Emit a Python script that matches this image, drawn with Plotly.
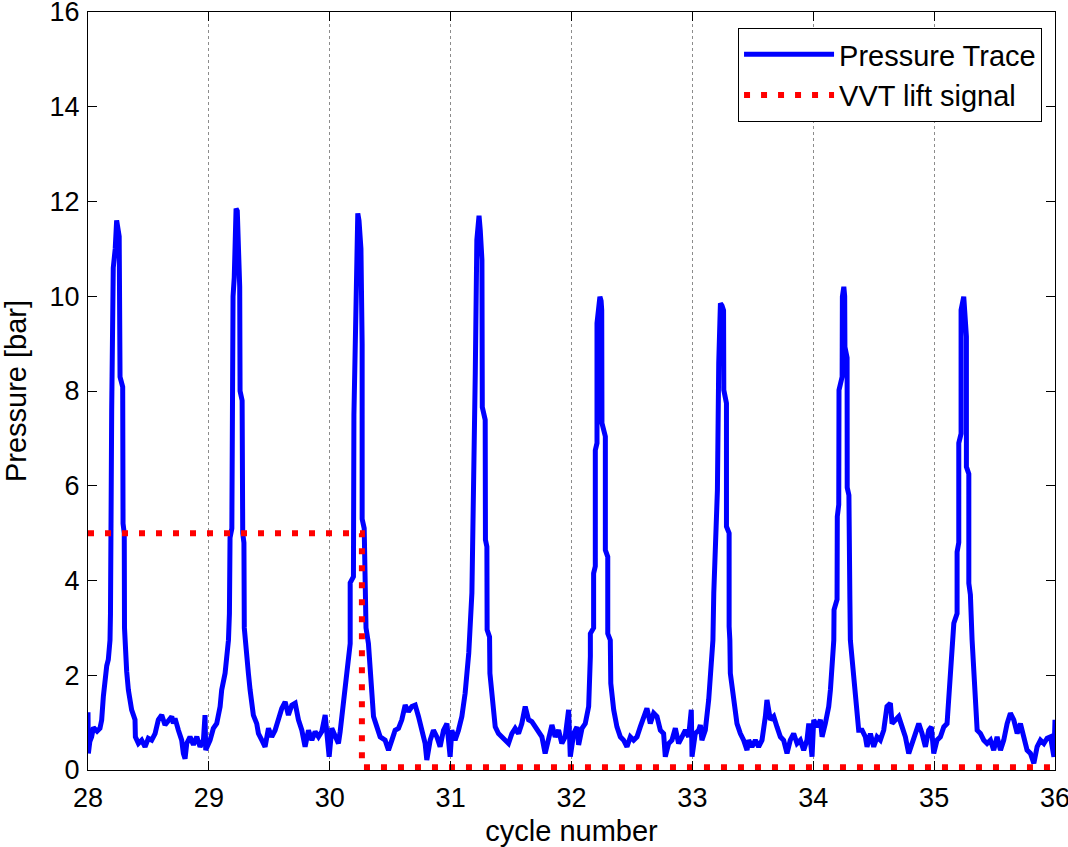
import plotly.graph_objects as go

# ---- data ----
cycle_x = [
    28.000, 28.003, 28.015, 28.030, 28.045, 28.058, 28.075, 28.099, 28.113, 28.127, 28.141, 28.155, 28.168, 28.182,
    28.186, 28.190, 28.196, 28.209, 28.225, 28.237, 28.245, 28.258, 28.265, 28.287, 28.290, 28.300, 28.302, 28.306,
    28.320, 28.334, 28.361, 28.389, 28.392, 28.417, 28.444, 28.472, 28.499, 28.527, 28.555, 28.582, 28.610, 28.637,
    28.665, 28.693, 28.706, 28.720, 28.748, 28.775, 28.789, 28.803, 28.817, 28.844, 28.872, 28.900, 28.927, 28.955,
    28.968, 28.974, 29.010, 29.037, 29.065, 29.093, 29.106, 29.134, 29.148, 29.162,
    29.170, 29.175, 29.190, 29.195, 29.200, 29.210, 29.225, 29.235, 29.245, 29.255, 29.258, 29.275, 29.280, 29.290,
    29.293, 29.300,
    29.327, 29.341, 29.368, 29.396, 29.410, 29.438, 29.465, 29.493, 29.520, 29.548, 29.576, 29.603, 29.631, 29.658,
    29.686, 29.714, 29.741, 29.769, 29.796, 29.824, 29.852, 29.879, 29.907, 29.934, 29.962, 29.984, 29.995, 30.017,
    30.045, 30.072, 30.086, 30.100, 30.127, 30.140, 30.155, 30.169,
    30.169, 30.196, 30.200, 30.210, 30.218, 30.232, 30.242, 30.258, 30.268, 30.268, 30.285, 30.293, 30.300, 30.320,
    30.334, 30.348, 30.362, 30.390, 30.417, 30.458, 30.486, 30.514, 30.541, 30.569, 30.596, 30.624, 30.651, 30.679,
    30.707, 30.734, 30.762, 30.789, 30.803, 30.831, 30.858, 30.886, 30.913, 30.941, 30.969, 30.996, 31.010, 31.037,
    31.065, 31.093, 31.120, 31.148,
    31.150, 31.176, 31.190, 31.204, 31.217, 31.235, 31.245, 31.259, 31.262, 31.286, 31.288, 31.300, 31.302, 31.322,
    31.325, 31.341, 31.369, 31.396, 31.424, 31.451, 31.479, 31.507, 31.534, 31.562, 31.589, 31.617, 31.645, 31.672,
    31.700, 31.727, 31.755, 31.782, 31.810, 31.838, 31.865, 31.893, 31.920, 31.948, 31.976, 31.990, 32.018, 32.045,
    32.059, 32.087, 32.114, 32.142,
    32.156, 32.156, 32.183, 32.183, 32.197, 32.197, 32.211, 32.211, 32.235, 32.245, 32.250, 32.252, 32.280, 32.280,
    32.300, 32.300, 32.321,
    32.325, 32.349, 32.376, 32.404, 32.431, 32.459, 32.487, 32.514, 32.542, 32.569, 32.597, 32.624, 32.652, 32.680,
    32.707, 32.735, 32.762, 32.776, 32.804, 32.831, 32.859, 32.886, 32.914, 32.942, 32.969, 32.991, 32.997, 33.024,
    33.052, 33.066, 33.079, 33.107, 33.135, 33.149, 33.162, 33.170,
    33.177, 33.180, 33.204, 33.207, 33.218, 33.232, 33.245, 33.258, 33.260, 33.282, 33.282, 33.304, 33.304, 33.310,
    33.314, 33.342, 33.369, 33.397, 33.424, 33.452, 33.466, 33.493, 33.521, 33.548, 33.576, 33.604, 33.617, 33.645,
    33.673, 33.700, 33.728, 33.755, 33.783, 33.810, 33.838, 33.866, 33.893, 33.921, 33.948, 33.963, 33.990, 34.004,
    34.032, 34.059, 34.073, 34.100, 34.128, 34.142, 34.156, 34.170,
    34.172, 34.197, 34.199, 34.211, 34.213, 34.239, 34.241, 34.253, 34.260, 34.262, 34.280, 34.281, 34.295, 34.296,
    34.303, 34.307,
    34.321, 34.348, 34.376, 34.404, 34.431, 34.445, 34.473, 34.500, 34.528, 34.555, 34.583, 34.610, 34.638, 34.652,
    34.679, 34.707, 34.735, 34.762, 34.790, 34.817, 34.845, 34.873, 34.900, 34.928, 34.955, 34.977, 34.997, 35.024,
    35.052, 35.080, 35.107, 35.121, 35.135, 35.149, 35.163,
    35.163, 35.190, 35.190, 35.204, 35.204, 35.223, 35.223, 35.245, 35.260, 35.267, 35.267, 35.287, 35.287, 35.300,
    35.314,
    35.328, 35.348, 35.356, 35.383, 35.411, 35.438, 35.466, 35.493, 35.521, 35.549, 35.576, 35.604, 35.631, 35.659,
    35.687, 35.714, 35.742, 35.769, 35.797, 35.825, 35.852, 35.880, 35.908, 35.935, 35.963, 35.991, 36.000,
]
pressure_bar = [
    1.22, 0.35, 0.60, 0.70, 0.90, 0.85, 0.82, 0.88, 1.05, 1.55, 2.05, 2.20, 2.33, 2.74,
    3.30, 6.10, 7.60, 10.60, 11.00, 11.60, 11.50, 11.26, 8.30, 8.09, 5.20, 5.00, 3.00, 2.74,
    2.08, 1.69, 1.27, 1.06, 0.70, 0.56, 0.63, 0.49, 0.67, 0.63, 0.77, 1.06, 1.16, 0.95,
    1.06, 1.13, 0.98, 1.09, 0.84, 0.63, 0.35, 0.24, 0.56, 0.70, 0.53, 0.70, 0.49, 0.63,
    1.16, 0.42, 0.63, 0.88, 0.98, 1.34, 1.69, 2.04, 2.39, 2.74,
    3.30, 4.90, 5.10, 8.30, 10.00, 10.40, 11.85, 11.80, 11.00, 10.20, 8.00, 7.80, 5.00, 4.80,
    3.00, 2.74,
    2.04, 1.69, 1.16, 0.98, 0.77, 0.63, 0.49, 0.88, 0.70, 0.84, 1.09, 1.30, 1.44, 1.16,
    1.37, 1.41, 1.06, 0.84, 0.49, 0.84, 0.63, 0.81, 0.70, 0.81, 1.16, 0.42, 0.28, 0.88,
    0.70, 0.56, 0.81, 1.13, 1.69, 2.04, 2.53, 2.67,
    3.95, 4.08, 7.50, 9.30, 11.00, 11.75, 11.60, 11.00, 9.00, 5.30, 5.10, 4.36, 3.00, 2.67,
    2.04, 1.55, 1.13, 0.91, 0.70, 0.63, 0.42, 0.63, 0.84, 0.88, 1.06, 1.37, 1.23, 1.34,
    1.37, 1.13, 0.84, 0.56, 0.21, 0.63, 0.84, 0.70, 0.49, 0.84, 0.98, 0.28, 0.84, 0.63,
    0.84, 1.13, 1.62, 2.25,
    2.47, 3.74, 5.64, 8.38, 11.19, 11.70, 11.40, 10.77, 7.66, 7.39, 4.86, 4.71, 2.96, 2.81,
    2.04, 1.55, 0.91, 0.77, 0.70, 0.63, 0.56, 0.77, 0.88, 0.77, 0.98, 1.34, 1.06, 1.02,
    0.91, 0.84, 0.70, 0.35, 0.63, 0.95, 0.70, 0.84, 0.56, 0.70, 1.27, 0.28, 0.77, 0.91,
    0.53, 0.88, 0.98, 1.34,
    2.40, 2.88, 3.00, 4.15, 4.30, 6.75, 6.90, 9.43, 9.99, 9.90, 9.71, 7.32, 7.04, 4.64,
    4.50, 2.88, 2.74,
    1.83, 1.27, 0.91, 0.70, 0.63, 0.49, 0.70, 0.63, 0.70, 0.91, 1.13, 1.30, 0.98, 1.20,
    1.13, 0.84, 0.77, 0.28, 0.56, 0.63, 0.88, 0.56, 0.70, 0.84, 0.70, 1.27, 0.28, 0.77,
    0.84, 0.95, 0.63, 0.84, 1.48, 1.90, 2.39, 2.74,
    3.73, 3.90, 5.70, 5.90, 8.58, 9.85, 9.80, 9.70, 8.02, 7.74, 5.14, 5.00, 3.03, 2.74,
    2.04, 1.48, 0.98, 0.77, 0.63, 0.42, 0.63, 0.49, 0.63, 0.49, 0.63, 1.13, 1.48, 1.06,
    1.13, 0.91, 0.70, 0.63, 0.35, 0.63, 0.77, 0.56, 0.63, 0.42, 0.63, 0.98, 0.28, 1.06,
    0.91, 1.06, 0.70, 0.98, 1.34, 1.69, 2.25, 2.74,
    3.38, 3.60, 5.35, 5.60, 8.02, 8.30, 9.99, 10.20, 10.00, 8.93, 8.70, 5.96, 5.80, 3.80,
    3.60, 2.74,
    2.32, 1.48, 0.84, 0.84, 0.70, 0.49, 0.77, 0.49, 0.70, 0.63, 0.84, 1.34, 1.41, 0.98,
    1.06, 1.13, 0.91, 0.70, 0.35, 0.56, 0.70, 0.98, 0.77, 0.49, 0.84, 0.91, 0.35, 0.63,
    0.70, 0.91, 0.98, 1.48, 1.97, 2.39, 2.74,
    3.10, 3.30, 4.60, 4.80, 6.90, 7.10, 9.71, 9.99, 9.60, 9.15, 6.40, 6.25, 3.94, 3.70,
    2.75,
    2.04, 1.34, 0.84, 0.77, 0.63, 0.56, 0.63, 0.42, 0.70, 0.42, 0.63, 0.98, 1.20, 1.06,
    0.77, 0.98, 0.63, 0.42, 0.35, 0.14, 0.49, 0.63, 0.56, 0.67, 0.70, 0.28, 1.06,
]
vvt_x = [28.0, 30.266, 30.266, 36.0]
vvt_y = [5.0, 5.0, 0.06, 0.06]

x_ticks = [28, 29, 30, 31, 32, 33, 34, 35, 36]
y_ticks = [0, 2, 4, 6, 8, 10, 12, 14, 16]

FONT = "Liberation Sans, Arial, sans-serif"

fig = go.Figure()
fig.add_trace(go.Scatter(
    x=cycle_x, y=pressure_bar, mode="lines", name="Pressure Trace",
    line=dict(color="#0000ff", width=5),
))
fig.add_trace(go.Scatter(
    x=vvt_x, y=vvt_y, mode="lines", name="VVT lift signal",
    line=dict(color="#ff0000", width=6, dash="6px,11px"),
))

axis_common = dict(
    showline=True, linecolor="black", linewidth=1, mirror="ticks",
    ticks="inside", ticklen=9, tickcolor="black", tickwidth=1,
    tickfont=dict(family=FONT, size=27, color="black"),
    zeroline=False, automargin=False, ticklabeloverflow="allow",
)
fig.update_xaxes(
    range=[28, 36], tickvals=x_ticks, ticktext=[str(v) for v in x_ticks],
    showgrid=True, gridcolor="#8c8c8c", gridwidth=1, griddash="dot",
    ticklabelstandoff=4,
    title=dict(text="cycle number", font=dict(family=FONT, size=29, color="black"), standoff=10),
    **axis_common,
)
fig.update_yaxes(
    range=[0, 16], tickvals=y_ticks, ticktext=[str(v) for v in y_ticks],
    showgrid=False,
    ticklabelstandoff=2,
    title=dict(text="Pressure [bar]", font=dict(family=FONT, size=29, color="black"), standoff=14),
    **axis_common,
)
fig.update_layout(
    width=1068, height=847,
    margin=dict(l=88, r=13, t=12, b=77),
    paper_bgcolor="white", plot_bgcolor="white",
    font=dict(family=FONT, color="black"),
    legend=dict(
        x=0.9866, y=0.979, xanchor="right", yanchor="top",
        bordercolor="black", borderwidth=1, bgcolor="white",
        font=dict(family=FONT, size=29, color="black"),
        itemwidth=90,
    ),
)
fig.write_html("out.html")
